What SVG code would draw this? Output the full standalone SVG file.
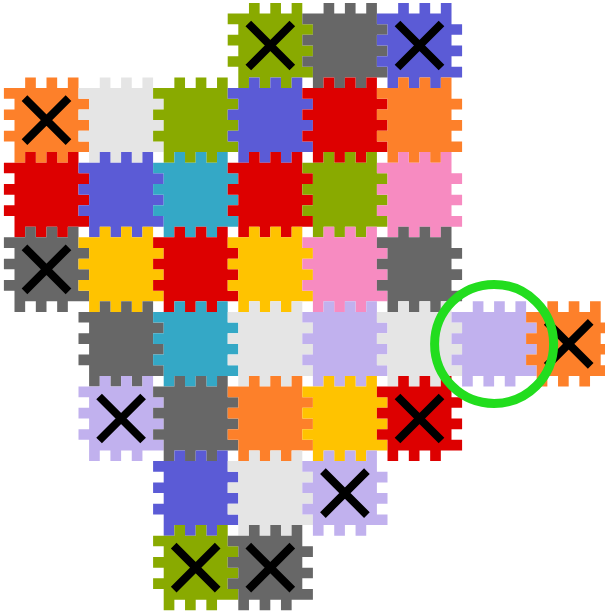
<svg xmlns="http://www.w3.org/2000/svg" xmlns:xlink="http://www.w3.org/1999/xlink" width="605" height="613" viewBox="0 0 605 613">
<style>
.olive{fill:#89aa00}.gray{fill:#676767}.blue{fill:#5b5bd6}.orange{fill:#fd802a}.lgray{fill:#e5e5e5}.red{fill:#dd0000}.cyan{fill:#34a8c6}.pink{fill:#f78bc1}.yellow{fill:#ffc300}.lav{fill:#c1b1ee}
.x{stroke:#000;stroke-width:8;fill:none}
</style>
<defs>
<path id="tile" d="M0,0 H10.667 V-10.6 H21.333 V0 H32 V-10.6 H42.667 V0 H53.333 V-10.6 H64 V0 V10.667 H74.6 V21.333 H64 V32 H74.6 V42.667 H64 V53.333 H74.6 V64 H64 H53.333 V74.6 H42.667 V64 H32 V74.6 H21.333 V64 H10.667 V74.6 H0 V64 V53.333 H-10.6 V42.667 H0 V32 H-10.6 V21.333 H0 V10.667 H-10.6 V0 Z"/>
<path id="cross" class="x" d="M-22,-22 L22,22 M22,-22 L-22,22"/>
</defs>
<rect width="605" height="613" fill="#fff"/>
<g id="tiles">
<g id="t-r0c3" transform="translate(238.3,13.5)"><use href="#tile" class="olive"/><use href="#cross" x="32" y="32"/></g>
<g id="t-r0c4" transform="translate(312.9,13.5)"><use href="#tile" class="gray"/></g>
<g id="t-r0c5" transform="translate(387.5,13.5)"><use href="#tile" class="blue"/><use href="#cross" x="32" y="32"/></g>

<g id="t-r1c0" transform="translate(14.5,88.1)"><use href="#tile" class="orange"/><use href="#cross" x="32" y="32"/></g>
<g id="t-r1c1" transform="translate(89.1,88.1)"><use href="#tile" class="lgray"/></g>
<g id="t-r1c2" transform="translate(163.7,88.1)"><use href="#tile" class="olive"/></g>
<g id="t-r1c3" transform="translate(238.3,88.1)"><use href="#tile" class="blue"/></g>
<g id="t-r1c4" transform="translate(312.9,88.1)"><use href="#tile" class="red"/></g>
<g id="t-r1c5" transform="translate(387.5,88.1)"><use href="#tile" class="orange"/></g>

<g id="t-r2c0" transform="translate(14.5,162.7)"><use href="#tile" class="red"/></g>
<g id="t-r2c1" transform="translate(89.1,162.7)"><use href="#tile" class="blue"/></g>
<g id="t-r2c2" transform="translate(163.7,162.7)"><use href="#tile" class="cyan"/></g>
<g id="t-r2c3" transform="translate(238.3,162.7)"><use href="#tile" class="red"/></g>
<g id="t-r2c4" transform="translate(312.9,162.7)"><use href="#tile" class="olive"/></g>
<g id="t-r2c5" transform="translate(387.5,162.7)"><use href="#tile" class="pink"/></g>

<g id="t-r3c0" transform="translate(14.5,237.3)"><use href="#tile" class="gray"/><use href="#cross" x="32" y="32"/></g>
<g id="t-r3c1" transform="translate(89.1,237.3)"><use href="#tile" class="yellow"/></g>
<g id="t-r3c2" transform="translate(163.7,237.3)"><use href="#tile" class="red"/></g>
<g id="t-r3c3" transform="translate(238.3,237.3)"><use href="#tile" class="yellow"/></g>
<g id="t-r3c4" transform="translate(312.9,237.3)"><use href="#tile" class="pink"/></g>
<g id="t-r3c5" transform="translate(387.5,237.3)"><use href="#tile" class="gray"/></g>

<g id="t-r4c1" transform="translate(89.1,311.9)"><use href="#tile" class="gray"/></g>
<g id="t-r4c2" transform="translate(163.7,311.9)"><use href="#tile" class="cyan"/></g>
<g id="t-r4c3" transform="translate(238.3,311.9)"><use href="#tile" class="lgray"/></g>
<g id="t-r4c4" transform="translate(312.9,311.9)"><use href="#tile" class="lav"/></g>
<g id="t-r4c5" transform="translate(387.5,311.9)"><use href="#tile" class="lgray"/></g>
<g id="t-r4c6" transform="translate(462.1,311.9)"><use href="#tile" class="lav"/></g>
<g id="t-r4c7" transform="translate(536.7,311.9)"><use href="#tile" class="orange"/><use href="#cross" x="32" y="32"/></g>

<g id="t-r5c1" transform="translate(89.1,386.5)"><use href="#tile" class="lav"/><use href="#cross" x="32" y="32"/></g>
<g id="t-r5c2" transform="translate(163.7,386.5)"><use href="#tile" class="gray"/></g>
<g id="t-r5c3" transform="translate(238.3,386.5)"><use href="#tile" class="orange"/></g>
<g id="t-r5c4" transform="translate(312.9,386.5)"><use href="#tile" class="yellow"/></g>
<g id="t-r5c5" transform="translate(387.5,386.5)"><use href="#tile" class="red"/><use href="#cross" x="32" y="32"/></g>

<g id="t-r6c2" transform="translate(163.7,461.1)"><use href="#tile" class="blue"/></g>
<g id="t-r6c3" transform="translate(238.3,461.1)"><use href="#tile" class="lgray"/></g>
<g id="t-r6c4" transform="translate(312.9,461.1)"><use href="#tile" class="lav"/><use href="#cross" x="32" y="32"/></g>

<g id="t-r7c2" transform="translate(163.7,535.7)"><use href="#tile" class="olive"/><use href="#cross" x="32" y="32"/></g>
<g id="t-r7c3" transform="translate(238.3,535.7)"><use href="#tile" class="gray"/><use href="#cross" x="32" y="32"/></g>
</g>
<g id="highlight">
<circle cx="494.1" cy="343.9" r="59.5" fill="none" stroke="#22dd1e" stroke-width="9"/>
</g>
</svg>
